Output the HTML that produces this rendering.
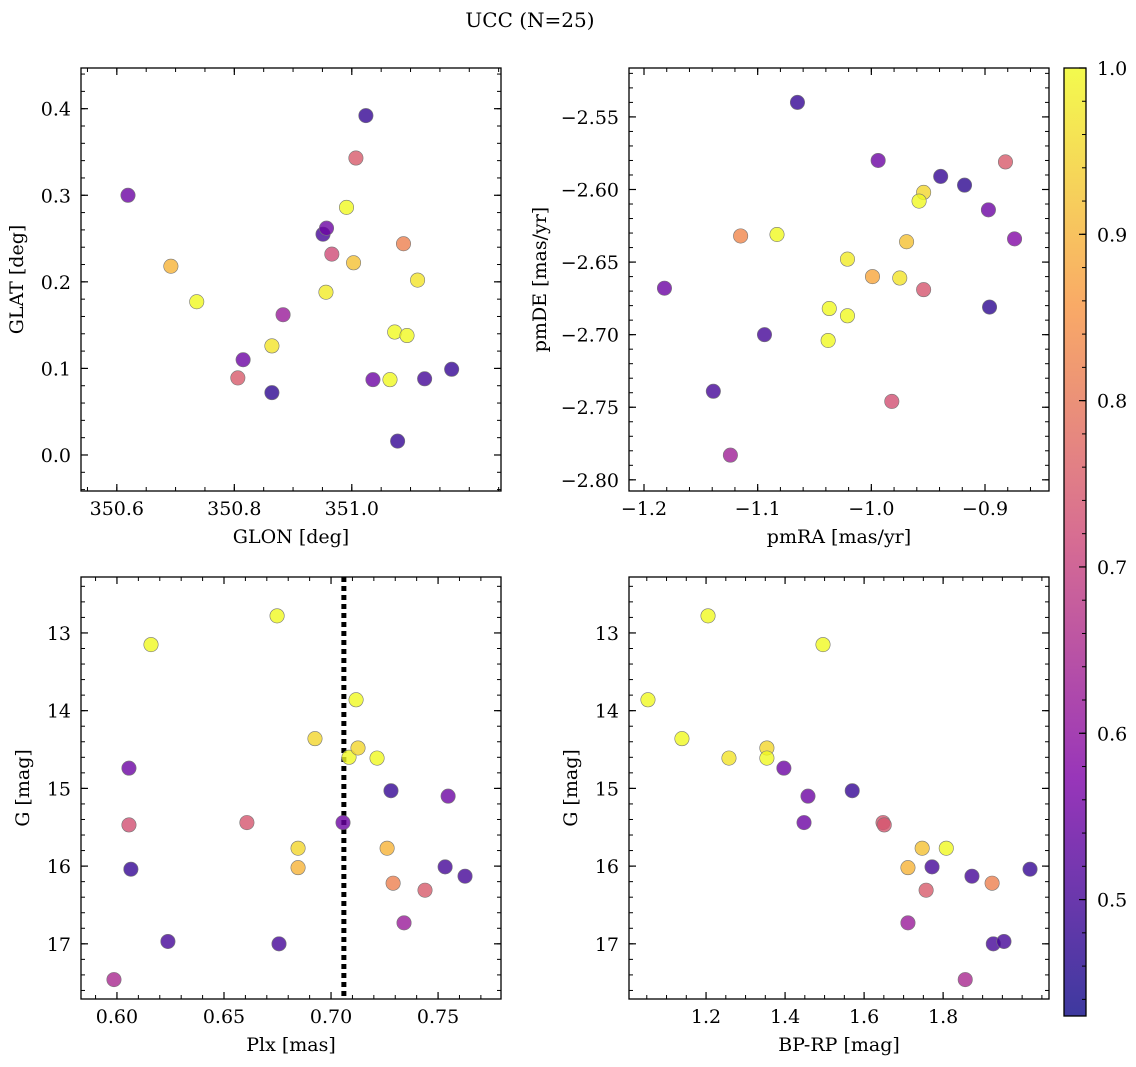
<!DOCTYPE html>
<html><head><meta charset="utf-8"><style>
body{margin:0;background:#fff;}
svg{display:block;font-family:"DejaVu Serif","Liberation Serif",serif;}
</style></head><body>
<svg id="fig" width="1136" height="1067" viewBox="0 0 1136 1067" xmlns="http://www.w3.org/2000/svg">
<text x="530" y="27" text-anchor="middle" font-size="20">UCC (N=25)</text>
</svg>
<script>
// Panel 1: GLON vs GLAT
const glonX=[350.619,350.692,350.736,350.806,350.815,350.864,350.864,350.883,350.951,350.957,350.966,350.956,350.991,351.007,351.003,351.024,351.036,351.065,351.073,351.078,351.088,351.094,351.112,351.124,351.170];
const glatY=[0.300,0.218,0.177,0.089,0.110,0.126,0.072,0.162,0.255,0.262,0.232,0.188,0.286,0.343,0.222,0.392,0.087,0.087,0.142,0.016,0.244,0.138,0.202,0.088,0.099];
const probA=[0.55,0.9,1.0,0.75,0.55,0.97,0.47,0.62,0.5,0.55,0.72,0.98,1.0,0.75,0.92,0.48,0.55,1.0,1.0,0.48,0.82,1.0,0.97,0.5,0.48];
// Panel 2: pmRA vs pmDE
const pmraX=[-1.065,-0.994,-0.939,-0.918,-0.882,-0.954,-0.958,-0.897,-0.874,-1.115,-1.083,-0.969,-1.021,-0.999,-0.975,-1.182,-0.954,-1.037,-1.021,-0.896,-1.094,-1.038,-1.139,-0.982,-1.124];
const pmdeY=[-2.540,-2.580,-2.591,-2.597,-2.581,-2.602,-2.608,-2.614,-2.634,-2.632,-2.631,-2.636,-2.648,-2.660,-2.661,-2.668,-2.669,-2.682,-2.687,-2.681,-2.700,-2.704,-2.739,-2.746,-2.783];
const probB=[0.48,0.55,0.48,0.47,0.75,0.95,1.0,0.55,0.58,0.83,1.0,0.92,0.98,0.88,0.97,0.55,0.74,1.0,1.0,0.47,0.5,1.0,0.5,0.73,0.63];
// Panel 3: Plx vs G
const plxX=[0.5986,0.6159,0.6056,0.6056,0.6065,0.6238,0.6607,0.6748,0.6757,0.6846,0.6846,0.6925,0.7056,0.7084,0.7117,0.7126,0.7215,0.7262,0.7280,0.7290,0.7341,0.7439,0.7533,0.7547,0.7626];
const gC=[17.46,13.15,14.74,15.47,16.04,16.97,15.44,12.78,17.0,15.77,16.02,14.36,15.44,14.6,13.86,14.48,14.61,15.77,15.03,16.22,16.73,16.31,16.01,15.10,16.13];
const probC=[0.65,1.0,0.55,0.73,0.48,0.5,0.74,1.0,0.5,0.95,0.9,0.95,0.55,1.0,1.0,0.95,1.0,0.9,0.48,0.82,0.62,0.75,0.5,0.55,0.5];
const plxLine=[0.706];
// Panel 4: BP-RP vs G
const bprpX=[1.053,1.139,1.205,1.258,1.354,1.354,1.397,1.458,1.496,1.448,1.570,1.648,1.651,1.747,1.808,1.711,1.772,1.757,1.873,1.711,1.924,1.927,1.954,1.856,2.020];
const gD=[13.86,14.36,12.78,14.61,14.48,14.61,14.74,15.10,13.15,15.44,15.03,15.44,15.47,15.77,15.77,16.02,16.01,16.31,16.13,16.73,16.22,17.0,16.97,17.46,16.04];
const probD=[1.0,1.0,1.0,0.97,0.95,1.0,0.55,0.55,1.0,0.55,0.48,0.74,0.74,0.92,1.0,0.9,0.5,0.75,0.5,0.62,0.82,0.5,0.5,0.65,0.48];
// Colorbar
const cbTicks=[0.5,0.6,0.7,0.8,0.9,1.0];
const cbRange=[0.43,1.0];

const NS="http://www.w3.org/2000/svg";
const svg=document.getElementById('fig');
const FS=19;
function mk(tag,attrs,parent){const e=document.createElementNS(NS,tag);for(const k in attrs)e.setAttribute(k,attrs[k]);(parent||svg).appendChild(e);return e;}
const stops=[[0,[13,8,135]],[0.25,[126,3,168]],[0.5,[204,71,120]],[0.75,[248,149,64]],[1,[240,249,33]]];
function plasma(t){t=Math.max(0,Math.min(1,t));for(let i=0;i<stops.length-1;i++){const a=stops[i],b=stops[i+1];if(t<=b[0]){const f=(t-a[0])/(b[0]-a[0]);const c=a[1].map((v,j)=>Math.round(v+(b[1][j]-v)*f));return `rgb(${c})`;}}return 'rgb(240,249,33)';}
function cnorm(v){return (v-cbRange[0])/(cbRange[1]-cbRange[0]);}
function fmt(v,d){let s=v.toFixed(d);return s.replace('-','\u2212');}

function panel(o){
  const g=mk('g',{});
  
  
  const {x0,x1,y0,y1}=o;
  const sx=v=>x0+(v-o.xr[0])/(o.xr[1]-o.xr[0])*(x1-x0);
  const sy=o.inv?(v=>y0+(v-o.yr[0])/(o.yr[1]-o.yr[0])*(y1-y0)):(v=>y1-(v-o.yr[0])/(o.yr[1]-o.yr[0])*(y1-y0));
  const eps=1e-9;
  for(let v=Math.ceil(o.xr[0]/o.xmin-eps)*o.xmin;v<=o.xr[1]+eps;v+=o.xmin){const p=sx(v);
    mk('line',{x1:p,x2:p,y1:y1,y2:y1-4,stroke:'#000','stroke-width':1},g);mk('line',{x1:p,x2:p,y1:y0,y2:y0+4,stroke:'#000','stroke-width':1},g);}
  const ylo=Math.min(...o.yr),yhi=Math.max(...o.yr);
  for(let v=Math.ceil(ylo/o.ymin-eps)*o.ymin;v<=yhi+eps;v+=o.ymin){const p=sy(v);
    mk('line',{x1:x0,x2:x0+4,y1:p,y2:p,stroke:'#000','stroke-width':1},g);mk('line',{x1:x1,x2:x1-4,y1:p,y2:p,stroke:'#000','stroke-width':1},g);}
  o.xt.forEach(v=>{const p=sx(v);
    mk('line',{x1:p,x2:p,y1:y1,y2:y1-7,stroke:'#000','stroke-width':1.2},g);mk('line',{x1:p,x2:p,y1:y0,y2:y0+7,stroke:'#000','stroke-width':1.2},g);
    const t=mk('text',{x:p,y:y1+24,'text-anchor':'middle','font-size':FS},g);t.textContent=fmt(v,o.xd);
    });
  o.yt.forEach(v=>{const p=sy(v);
    mk('line',{x1:x0,x2:x0+7,y1:p,y2:p,stroke:'#000','stroke-width':1.2},g);mk('line',{x1:x1,x2:x1-7,y1:p,y2:p,stroke:'#000','stroke-width':1.2},g);
    const t=mk('text',{x:x0-10,y:p+7,'text-anchor':'end','font-size':FS},g);t.textContent=fmt(v,o.yd);
    });
  if(o.vline){o.vline.forEach(v=>{const l=mk('line',{x1:sx(v),x2:sx(v),y1:y0,y2:y1,stroke:'#000','stroke-width':5,'stroke-dasharray':'5,4'},g);
    });}
  o.xs.forEach((xv,i)=>{const c=mk('circle',{cx:sx(xv),cy:sy(o.ys[i]),r:7.2,fill:plasma(cnorm(o.cs[i])),'fill-opacity':0.8,stroke:'#777','stroke-width':0.6},g);
    });
  mk('rect',{x:x0,y:y0,width:x1-x0,height:y1-y0,fill:'none',stroke:'#000','stroke-width':1.3},g);
  const xl=mk('text',{x:(x0+x1)/2,y:y1+52,'text-anchor':'middle','font-size':FS},g);xl.textContent=o.xlab;
  
  const yx=o.ylx,yc=(y0+y1)/2;
  const yl=mk('text',{x:yx,y:yc,'text-anchor':'middle','font-size':FS,transform:`rotate(-90 ${yx} ${yc})`},g);yl.textContent=o.ylab;
  
}
panel({name:'glon-glat-panel',x0:81,x1:501,y0:68,y1:491,xr:[350.539,351.254],yr:[-0.0416,0.447],xt:[350.6,350.8,351.0],xd:1,yt:[0,0.1,0.2,0.3,0.4],yd:1,xmin:0.05,ymin:0.02,xs:glonX,ys:glatY,cs:probA,xlab:'GLON [deg]',ylab:'GLAT [deg]',ylx:23});
panel({name:'pm-panel',x0:629,x1:1049,y0:68,y1:491,xr:[-1.2132,-0.8437],yr:[-2.8077,-2.5163],xt:[-1.2,-1.1,-1.0,-0.9],xd:1,yt:[-2.55,-2.6,-2.65,-2.7,-2.75,-2.8],yd:2,xmin:0.02,ymin:0.01,xs:pmraX,ys:pmdeY,cs:probB,xlab:'pmRA [mas/yr]',ylab:'pmDE [mas/yr]',ylx:546});
panel({name:'plx-g-panel',x0:81,x1:501,y0:577,y1:999,xr:[0.5832,0.7794],yr:[12.28,17.71],inv:true,xt:[0.6,0.65,0.7,0.75],xd:2,yt:[13,14,15,16,17],yd:0,xmin:0.01,ymin:0.2,xs:plxX,ys:gC,cs:probC,vline:plxLine,xlab:'Plx [mas]',ylab:'G [mag]',ylx:29});
panel({name:'cmd-panel',x0:629,x1:1049,y0:577,y1:999,xr:[1.005,2.068],yr:[12.28,17.71],inv:true,xt:[1.2,1.4,1.6,1.8],xd:1,yt:[13,14,15,16,17],yd:0,xmin:0.05,ymin:0.2,xs:bprpX,ys:gD,cs:probD,xlab:'BP-RP [mag]',ylab:'G [mag]',ylx:577});

const cb=mk('g',{});


const cx0=1064,cx1=1086,cy0=68,cy1=1016;
const defs=mk('defs',{},cb);const lg=mk('linearGradient',{id:'pl',x1:0,y1:1,x2:0,y2:0},defs);
for(let i=0;i<=20;i++){mk('stop',{offset:i/20,'stop-color':plasma(i/20),'stop-opacity':0.8},lg);}
mk('rect',{x:cx0,y:cy0,width:cx1-cx0,height:cy1-cy0,fill:'url(#pl)',stroke:'#000','stroke-width':1.3},cb);
const cy=v=>cy1-(v-cbRange[0])/(cbRange[1]-cbRange[0])*(cy1-cy0);
for(let v=0.44;v<=1.0001;v+=0.02){mk('line',{x1:cx1,x2:cx1-4,y1:cy(v),y2:cy(v),stroke:'#000','stroke-width':1},cb);}
cbTicks.forEach(v=>{const p=cy(v);mk('line',{x1:cx1,x2:cx1-7,y1:p,y2:p,stroke:'#000','stroke-width':1.2},cb);
  const t=mk('text',{x:1097,y:p+7,'font-size':FS},cb);t.textContent=v.toFixed(1);
  });
</script>
</body></html>
